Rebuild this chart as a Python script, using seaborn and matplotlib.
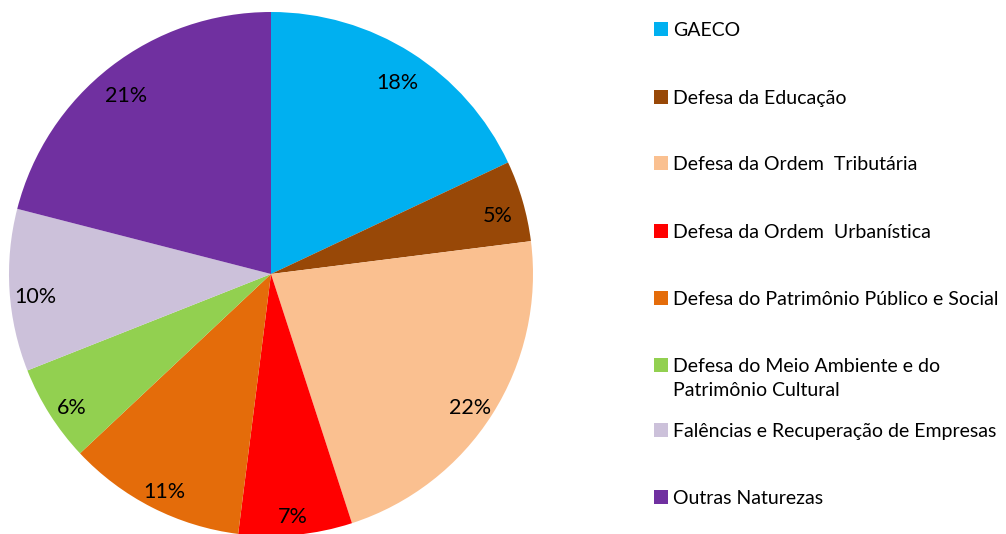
import matplotlib
matplotlib.use("Agg")
import matplotlib.pyplot as plt
from matplotlib.patches import Rectangle
from matplotlib.transforms import ScaledTranslation
import seaborn as sns

categories = [
    "GAECO",
    "Defesa da Educação",
    "Defesa da Ordem  Tributária",
    "Defesa da Ordem  Urbanística",
    "Defesa do Patrimônio Público e Social",
    "Defesa do Meio Ambiente e do\nPatrimônio Cultural",
    "Falências e Recuperação de Empresas",
    "Outras Naturezas",
]
shares = [18, 5, 22, 7, 11, 6, 10, 21]
colors = ["#00B0F0", "#984807", "#FAC090", "#FF0000",
          "#E46C0A", "#92D050", "#CCC1DA", "#7030A0"]

sns.set_theme(style="white")
plt.rcParams["font.family"] = ["Lato", "DejaVu Sans"]

W, H = 1006, 534
fig = plt.figure(figsize=(W / 100, H / 100), dpi=100)
fig.patch.set_facecolor("white")

# pie axes: centre (271, 274) px, radius 262 px
cx, cy, r = 271, 274, 262
ax = fig.add_axes([(cx - r) / W, (H - cy - r) / H, 2 * r / W, 2 * r / H])
palette = sns.color_palette(colors)
wedges, _, autotexts = ax.pie(
    shares, colors=palette, startangle=90, counterclock=False,
    autopct=lambda p: f"{p:.0f}%", pctdistance=0.9,
    wedgeprops=dict(linewidth=0), textprops=dict(fontsize=15.5, color="black"),
)
# percentages sit a touch lower than the bbox-centred default
shift = ScaledTranslation(0, -8 / 100, fig.dpi_scale_trans)
for t in autotexts:
    t.set_transform(ax.transData + shift)
ax.set_xlim(-1, 1)
ax.set_ylim(-1, 1)
ax.set_aspect("equal")
ax.axis("off")

# legend column on the right
row_y = [29, 97, 163, 231, 298, 365, 430, 497]
box = 14
for label, col, y in zip(categories, palette, row_y):
    fig.patches.append(Rectangle(((668 - box) / W, (H - y - box / 2) / H),
                                 box / W, box / H, transform=fig.transFigure,
                                 facecolor=col, edgecolor="none"))
    fig.text(673 / W, (H - y + 7) / H, label, fontsize=14, va="top",
             ha="left", color="black", linespacing=1.5)

fig.savefig("out.png", dpi=100, facecolor="white")
